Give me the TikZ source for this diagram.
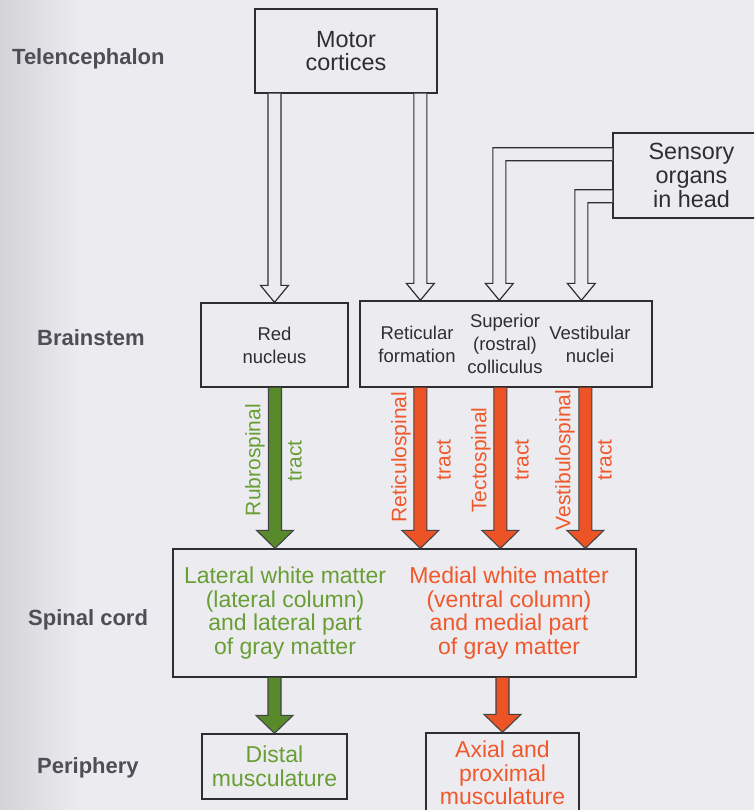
\documentclass[tikz,border=0pt]{standalone}
\usepackage{fontspec}
\setmainfont{Liberation Sans}
\usetikzlibrary{calc}

\definecolor{paper}{RGB}{236,236,240}
\definecolor{gutter}{RGB}{212,212,216}
\definecolor{ink}{RGB}{45,45,50}
\definecolor{levelgray}{RGB}{78,78,86}
\definecolor{latgreen}{RGB}{88,138,44}
\definecolor{latgreentext}{RGB}{104,158,52}
\definecolor{medred}{RGB}{236,84,38}
\definecolor{medredtext}{RGB}{240,88,44}

% half shaft width, half head width and head length of the block arrows
\def\TractShaft{6.5pt}
\def\TractHead{18.5pt}
\def\TractLen{18pt}

% vertical block arrow: tail level from #2, tip (and column) from #3
\newcommand{\blockarrow}[3]{%
  \filldraw[#1] let \p1=#2, \p2=#3 in
    (\x2-\TractShaft,\y1) -- (\x2-\TractShaft,\y2+\TractLen)
    -- (\x2-\TractHead,\y2+\TractLen) -- (\x2,\y2)
    -- (\x2+\TractHead,\y2+\TractLen) -- (\x2+\TractShaft,\y2+\TractLen)
    -- (\x2+\TractShaft,\y1);}

% bent hollow arrow: leaves the side of a box at #2, turns down to the tip #3
\newcommand{\bentarrow}[3]{%
  \filldraw[#1] let \p1=#2, \p2=#3 in
    (\x1,\y1+\TractShaft) -- (\x2-\TractShaft,\y1+\TractShaft)
    -- (\x2-\TractShaft,\y2+\TractLen) -- (\x2-\TractHead,\y2+\TractLen)
    -- (\x2,\y2) -- (\x2+\TractHead,\y2+\TractLen)
    -- (\x2+\TractShaft,\y2+\TractLen) -- (\x2+\TractShaft,\y1-\TractShaft)
    -- (\x1,\y1-\TractShaft);}

\tikzset{
  box/.style={draw=ink, line width=1.3pt, inner sep=0pt, align=center, text=ink},
  bigtext/.style={font=\fontsize{23.4}{23.6}\selectfont},
  midtext/.style={font=\fontsize{18.5}{23}\selectfont},
  plain/.style={inner sep=0pt, align=center, text=ink, midtext},
  level/.style={anchor=base west, inner sep=0pt, text=levelgray,
    font=\fontsize{22}{26}\selectfont\bfseries},
  tractlabel/.style={inner sep=0pt, rotate=90, font=\fontsize{21}{24}\selectfont},
  regiontext/.style={inner sep=0pt, align=center, font=\fontsize{23}{23.7}\selectfont},
  hollow/.style={fill=paper, draw=ink, line width=1.2pt, line join=miter},
  greentract/.style={fill=latgreen, draw=ink!90, line width=1.1pt, line join=miter},
  redtract/.style={fill=medred, draw=ink!90, line width=1.1pt, line join=miter},
}

\begin{document}
\begin{tikzpicture}[x=1pt, y=-1pt]
  % page
  \useasboundingbox (0,0) rectangle (754,810);
  \clip (0,0) rectangle (754,810);
  \fill[paper] (0,0) rectangle (754,810);
  \shade[left color=gutter, right color=paper] (0,0) rectangle (80,810);

  % level names
  \node[level] (telen) at (12,65) {Telencephalon};
  \node[level] (brainstem) at (37,345) {Brainstem};
  \node[level] (spinal) at (28,625) {Spinal cord};
  \node[level] (periph) at (37,773) {Periphery};

  % boxes
  \node[box, bigtext, minimum width=182pt, minimum height=84pt] (motor) at (346,51)
    {Motor\\cortices};
  \node[box, bigtext, minimum width=157pt, minimum height=85pt] (sens) at (691.5,175.5)
    {Sensory\\organs\\in head};
  \node[box, midtext, minimum width=147pt, minimum height=84pt] (red) at (274.5,345)
    {Red\\nucleus};
  \node[box, minimum width=292pt, minimum height=86pt] (brainR) at (506,344) {};
  \node[plain] (retic) at (417,344) {Reticular\\formation};
  \node[plain] (sup) at (505,344) {Superior\\(rostral)\\colliculus};
  \node[plain] (vest) at (590,344) {Vestibular\\nuclei};

  \node[box, minimum width=463pt, minimum height=128pt] (cord) at (404.5,613) {};
  \node[regiontext, text=latgreentext] (latwm) at (285,613)
    {Lateral white matter\\(lateral column)\\and lateral part\\of gray matter};
  \node[regiontext, text=medredtext] (medwm) at (509,613)
    {Medial white matter\\(ventral column)\\and medial part\\of gray matter};

  \node[box, regiontext, text=latgreentext, minimum width=145pt, minimum height=65pt]
    (distal) at (274.5,766.5) {Distal\\musculature};
  \node[box, regiontext, text=medredtext, minimum width=153pt, minimum height=80pt]
    (axial) at (502.5,773) {Axial and\\proximal\\musculature};

  % entry and exit columns of the arrows
  \coordinate (inRetic) at ($(brainR.north west)+(61,0)$);
  \coordinate (inSup)   at ($(brainR.north west)+(140,0)$);
  \coordinate (inVest)  at ($(brainR.north west)+(222,0)$);
  \coordinate (outRubro) at ($(red.south)+(0.5,0)$);
  \coordinate (outRetic) at ($(brainR.south west)+(61,0)$);
  \coordinate (outTecto) at ($(brainR.south west)+(141,0)$);
  \coordinate (outVest)  at ($(brainR.south west)+(226,0)$);
  \coordinate (tipRubro) at (outRubro |- cord.north);
  \coordinate (tipRetic) at (outRetic |- cord.north);
  \coordinate (tipTecto) at (outTecto |- cord.north);
  \coordinate (tipVest)  at (outVest |- cord.north);
  \coordinate (outLat) at ($(cord.south west)+(100,0)$);
  \coordinate (outMed) at ($(cord.south west)+(328,0)$);

  % hollow arrows into the brainstem
  \def\TractHead{14pt}
  \def\TractLen{17pt}
  \blockarrow{hollow}{(motor.south)}{(red.north)}
  \blockarrow{hollow}{(motor.south)}{(inRetic)}
  \bentarrow{hollow}{($(sens.north west)+(0,22)$)}{(inSup)}
  \bentarrow{hollow}{($(sens.north west)+(0,64)$)}{(inVest)}

  % descending tracts
  \def\TractHead{18.5pt}
  \def\TractLen{18pt}
  \blockarrow{greentract}{(outRubro)}{(tipRubro)}
  \blockarrow{redtract}{(outRetic)}{(tipRetic)}
  \blockarrow{redtract}{(outTecto)}{(tipTecto)}
  \blockarrow{redtract}{(outVest)}{(tipVest)}

  % tract names
  \node[tractlabel, text=latgreentext] (rubro) at (255,460) {Rubrospinal};
  \node[tractlabel, text=latgreentext] (rubrot) at (295,461) {tract};
  \node[tractlabel, text=medredtext] (reticsp) at (401,457) {Reticulospinal};
  \node[tractlabel, text=medredtext] (reticspt) at (444,460) {tract};
  \node[tractlabel, text=medredtext] (tecto) at (481,460) {Tectospinal};
  \node[tractlabel, text=medredtext] (tectot) at (522,460) {tract};
  \node[tractlabel, text=medredtext] (vestsp) at (565,460) {Vestibulospinal};
  \node[tractlabel, text=medredtext] (vestspt) at (605,460) {tract};

  % to the musculature
  \blockarrow{greentract}{(outLat)}{(distal.north)}
  \blockarrow{redtract}{(outMed)}{(axial.north)}
\end{tikzpicture}
\end{document}
